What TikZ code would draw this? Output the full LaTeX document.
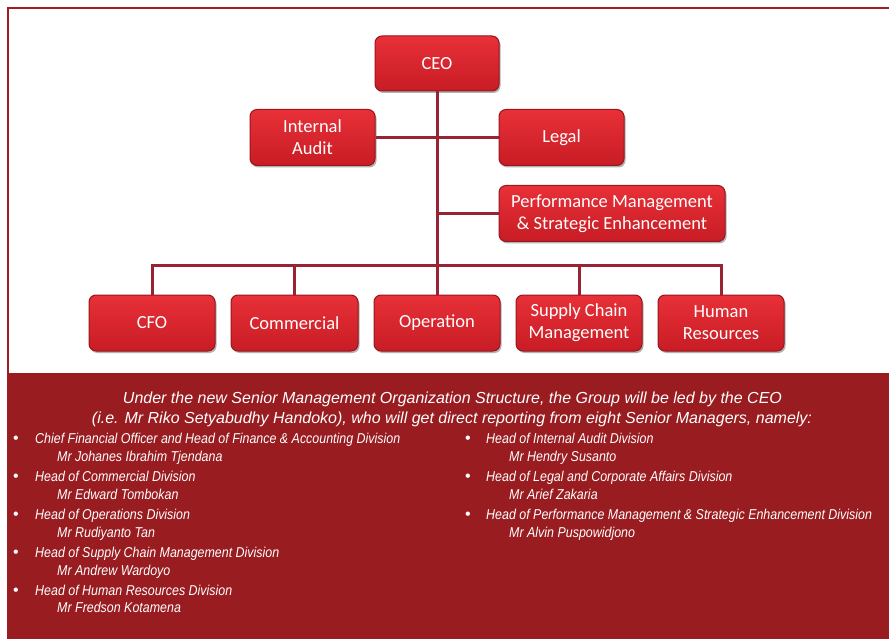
\documentclass[tikz,border=0pt]{standalone}
\usepackage{fontspec}
\setmainfont{Carlito}
\newfontfamily\headfont{Liberation Sans}
\newfontfamily\itemfont[FakeStretch=0.87]{Liberation Sans}
\usetikzlibrary{shadows}
\definecolor{boxtop}{RGB}{232,48,56}
\definecolor{boxbot}{RGB}{200,28,36}
\definecolor{boxrim}{RGB}{150,24,30}
\definecolor{linec}{RGB}{150,36,52}
\definecolor{panelc}{RGB}{152,28,32}
\definecolor{framec}{RGB}{160,30,34}
\begin{document}
\begin{tikzpicture}[x=1pt,y=-1pt,
  orgbox/.style={rounded corners=7pt, top color=boxtop, bottom color=boxbot,
    draw=boxrim, line width=1pt, text=white, font=\fontsize{18.5}{22}\selectfont,
    align=center, minimum width=125pt, minimum height=56pt, inner sep=2pt,
    drop shadow={shadow xshift=1.5pt, shadow yshift=-2pt, fill=black, opacity=0.3}},
  conn/.style={draw=linec, line width=3pt},
  headtext/.style={text=white, font=\headfont\itshape\fontsize{16}{18}\selectfont, inner sep=0pt, anchor=base},
  itemtext/.style={text=white, font=\itemfont\itshape\fontsize{14.3}{16}\selectfont, inner sep=0pt, anchor=base west},
  bul/.style={text=white, font=\headfont\fontsize{16}{16}\selectfont, inner sep=0pt, anchor=base}
]
\useasboundingbox (0,0) rectangle (889,639);
\fill[white] (0,0) rectangle (889,639);
\fill[panelc] (7,373) rectangle (889,639);
\draw[framec, line width=2.5pt] (8.2,373) -- (8.2,8.2) -- (889,8.2);

% boxes
\node[orgbox, minimum width=124pt, minimum height=55pt] (ceo) at (437,63.5) {CEO};
\node[orgbox] (ia) at (312.5,137.5) {Internal\\Audit};
\node[orgbox] (legal) at (561.5,137.5) {Legal};
\node[orgbox, minimum width=226pt] (pmse) at (612,213.5) {Performance Management\\\& Strategic Enhancement};
\node[orgbox, minimum width=126pt] (cfo) at (152,323) {CFO};
\node[orgbox, minimum width=127pt] (com) at (294.5,323) {Commercial};
\node[orgbox, minimum width=126pt] (op) at (437,323) {Operation};
\node[orgbox, minimum width=126pt] (scm) at (579,323) {Supply Chain\\Management};
\node[orgbox, minimum width=126pt] (hr) at (721,323) {Human\\Resources};

% connectors
\coordinate (bar) at (0,265);
\draw[conn] (ceo.south) -- (op.north);
\draw[conn] (ia.east) -- (legal.west);
\draw[conn] (ceo.south |- pmse.west) -- (pmse.west);
\draw[conn] (cfo.north) -- (cfo.north |- bar) -- (hr.north |- bar) -- (hr.north);
\draw[conn] (com.north) -- (com.north |- bar);
\draw[conn] (scm.north) -- (scm.north |- bar);

% text panel
\node[headtext] (h1) at (452.5,403) {Under the new Senior Management Organization Structure, the Group will be led by the CEO};
\node[headtext] (h2) at (452,423) {(i.e. Mr Riko Setyabudhy Handoko), who will get direct reporting from eight Senior Managers, namely:};

\node[bul] (b1) at (16,443) {•};
\node[itemtext] (t1) at (35,443) {Chief Financial Officer and Head of Finance \& Accounting Division};
\node[itemtext] (n1) at (57,461) {Mr Johanes Ibrahim Tjendana};
\node[bul] (b2) at (16,481) {•};
\node[itemtext] (t2) at (35,481) {Head of Commercial Division};
\node[itemtext] (n2) at (57,499) {Mr Edward Tombokan};
\node[bul] (b3) at (16,519) {•};
\node[itemtext] (t3) at (35,519) {Head of Operations Division};
\node[itemtext] (n3) at (57,537) {Mr Rudiyanto Tan};
\node[bul] (b4) at (16,557) {•};
\node[itemtext] (t4) at (35,557) {Head of Supply Chain Management Division};
\node[itemtext] (n4) at (57,575) {Mr Andrew Wardoyo};
\node[bul] (b5) at (16,595) {•};
\node[itemtext] (t5) at (35,595) {Head of Human Resources Division};
\node[itemtext] (n5) at (57,612) {Mr Fredson Kotamena};

\node[bul] (b6) at (468,443) {•};
\node[itemtext] (t6) at (486,443) {Head of Internal Audit Division};
\node[itemtext] (n6) at (509,461) {Mr Hendry Susanto};
\node[bul] (b7) at (468,481) {•};
\node[itemtext] (t7) at (486,481) {Head of Legal and Corporate Affairs Division};
\node[itemtext] (n7) at (509,499) {Mr Arief Zakaria};
\node[bul] (b8) at (468,519) {•};
\node[itemtext] (t8) at (486,519) {Head of Performance Management \& Strategic Enhancement Division};
\node[itemtext] (n8) at (509,537) {Mr Alvin Puspowidjono};
\end{tikzpicture}
\end{document}
